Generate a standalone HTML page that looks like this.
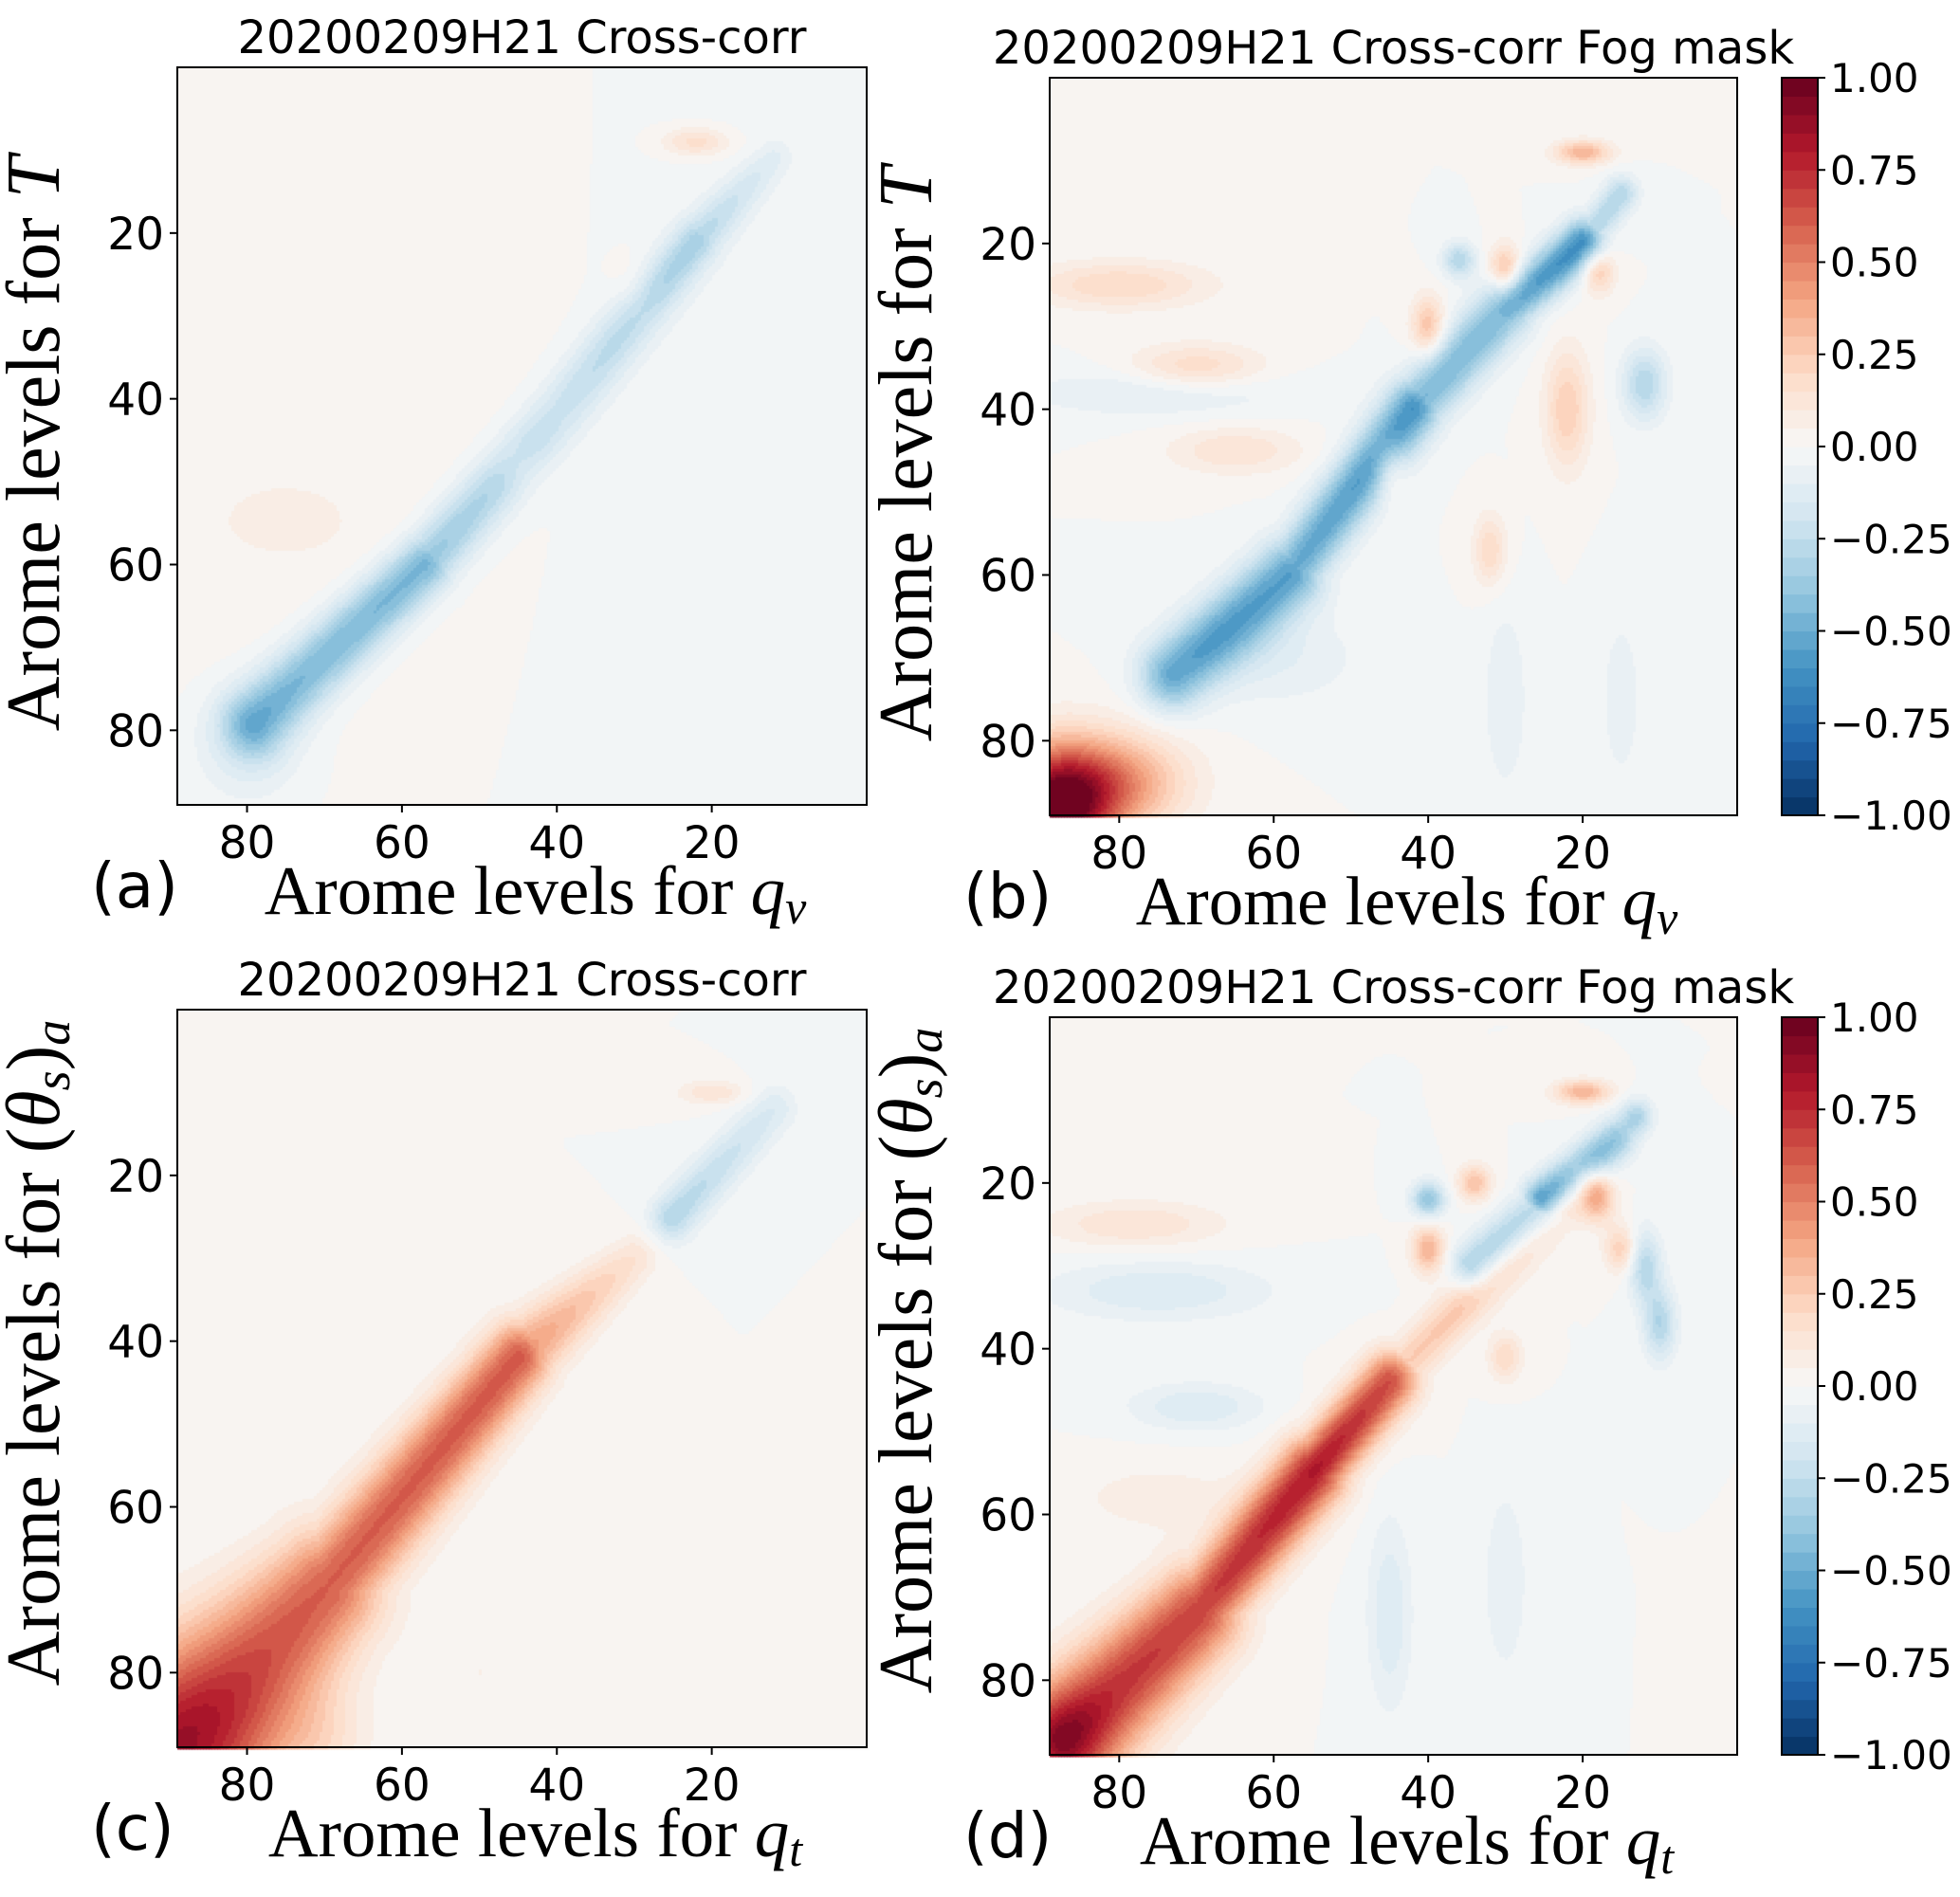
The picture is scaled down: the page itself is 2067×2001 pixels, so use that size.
<!DOCTYPE html>
<html><head><meta charset="utf-8">
<style>
html,body{margin:0;padding:0;background:#fff;}
#wrap{position:relative;width:2067px;height:2001px;overflow:hidden;}
canvas{position:absolute;}
svg{position:absolute;left:0;top:0;}
text{font-family:"DejaVu Sans","Liberation Sans",sans-serif;fill:#000;}
.serif{font-family:"Liberation Serif","DejaVu Serif",serif;}
</style></head>
<body>
<div id="wrap">
<canvas id="cv" width="2067" height="2001"></canvas>
<svg id="sv" width="2067" height="2001"></svg>
</div>
<script>
// ---- Data: features (levels; x = horizontal variable level, y = vertical level) ----
// segments: [x1,y1,x2,y2,amp1,amp2,width1,width2]
const segA = [[79,79,57,60,-0.45,-0.48,3,2.5],[57,60,40,42,-0.4,-0.22,2.5,2.5],[40,42,22,21,-0.22,-0.32,2.5,2],[22,21,12,11,-0.28,-0.1,2,1.5]];
// blobs: [x,y,amp,sx,sy]
const blobA = [[75,35,0.04,25,30],[10,60,-0.04,20,40],[80,82,-0.12,5,5],[22,9,0.18,3,1.2],[30,27,0.06,2,3],[45,48,0.06,2,2],[75,55,0.04,6,3]];
const segB = [[73,72,58,60,-0.5,-0.55,3,3],[58,60,42,40,-0.5,-0.6,2.5,2.5],[42,40,30,28,-0.45,-0.45,2.5,2.5],[30,28,20,20,-0.5,-0.65,2,2],[20,20,15,14,-0.3,-0.3,1.5,1.5]];
const blobB = [[88,88,1.0,5,5],[80,85,0.4,6,4],[80,25,0.2,8,2],[70,35,0.2,6,2],[65,45,0.15,6,2],[40,30,0.3,1.5,2.5],[36,22,-0.3,1.5,1.5],[30,23,0.3,1.5,2],[20,9,0.35,2.5,1],[18,23,0.3,1.5,2],[12,37,-0.3,2,3],[22,40,0.25,2,5],[45,47,0.2,1.5,2.5],[32,57,0.2,1.5,3],[75,38,-0.12,12,2],[60,70,-0.1,8,4],[30,75,-0.1,2,8],[15,75,-0.08,2,8]];
const segC = [[89,89,70,70,0.62,0.6,8,5],[70,70,45,42,0.6,0.62,4,3],[45,42,30,30,0.45,0.15,3,2],[25,25,12,12,-0.3,-0.15,2,2]];
const blobC = [[89,89,0.25,10,8],[20,10,0.15,3,1],[70,88,0.1,4,4],[50,80,0.05,4,6]];
const segD = [[87,87,70,72,0.75,0.68,5,4],[70,72,55,55,0.68,0.8,3,3],[55,55,45,44,0.82,0.65,2.5,2.5],[43,42,20,20,0.25,0.3,2,2],[34,30,25,23,-0.4,-0.45,2,2],[25,22,16,15,-0.7,-0.4,1.8,1.8]];
const blobD = [[87,87,0.2,4,4],[13,12,-0.3,1.5,1.5],[40,22,-0.4,1.5,1.5],[34,20,0.3,1.5,1.5],[40,28,0.35,1.5,2],[18,22,0.3,1.5,2],[15,28,0.25,1.5,2],[12,30,-0.3,1.5,3],[10,37,-0.3,1.5,3],[20,9,0.35,2.5,1],[30,41,0.2,1.5,2],[75,33,-0.15,10,2.5],[70,47,-0.15,6,2],[78,25,0.15,8,2],[45,72,-0.15,2,8],[30,68,-0.1,2,8],[75,58,0.08,8,3]];
const xTicks = [80,60,40,20];
const yTicks = [20,40,60,80];
const cbTicks = [1.00,0.75,0.50,0.25,0.00,-0.25,-0.50,-0.75,-1.00];
const titles = ["20200209H21 Cross-corr","20200209H21 Cross-corr Fog mask","20200209H21 Cross-corr","20200209H21 Cross-corr Fog mask"];
const letters = ["(a)","(b)","(c)","(d)"];

const panels = [
 {id:'a',L:187,T:71,R:914,B:849,seg:segA,blob:blobA,xv:'v',yl:'T',cb:false},
 {id:'b',L:1107,T:82,R:1832,B:860,seg:segB,blob:blobB,xv:'v',yl:'T',cb:true},
 {id:'c',L:187,T:1065,R:914,B:1843,seg:segC,blob:blobC,xv:'t',yl:'th',cb:false},
 {id:'d',L:1107,T:1073,R:1832,B:1851,seg:segD,blob:blobD,xv:'t',yl:'th',cb:true}
];
const RD=[[0x67,0x00,0x1f],[0xb2,0x18,0x2b],[0xd6,0x60,0x4d],[0xf4,0xa5,0x82],[0xfd,0xdb,0xc7],[0xf7,0xf7,0xf7],[0xd1,0xe5,0xf0],[0x92,0xc5,0xde],[0x43,0x93,0xc3],[0x21,0x66,0xac],[0x05,0x30,0x61]];
function cmap(v){
  v=Math.max(-1,Math.min(1,v));
  let q=Math.min(39,Math.floor((v+1)/2*40)); let vv=-1+(q+0.5)/20;
  let t=(1-vv)/2*10; let i=Math.min(9,Math.floor(t)); let f=t-i;
  const c=RD[i].map((a,k)=>Math.round(a+(RD[i+1][k]-a)*f));
  return 'rgb('+c.join(',')+')';
}
function field(p,x,y){
  let pos=0,neg=0,s=0;
  for(const g of p.seg){
    const [x1,y1,x2,y2,a1,a2,w1,w2]=g; const dx=x2-x1,dy=y2-y1;
    let t=((x-x1)*dx+(y-y1)*dy)/(dx*dx+dy*dy); t=Math.max(0,Math.min(1,t));
    const px=x1+dx*t,py=y1+dy*t; const d2=(x-px)**2+(y-py)**2;
    const w=w1+(w2-w1)*t; const v=(a1+(a2-a1)*t)*Math.exp(-d2/(2*w*w));
    if(v>pos)pos=v; if(v<neg)neg=v;
  }
  s=pos+neg;
  for(const b of p.blob){ s+=b[2]*Math.exp(-((x-b[0])**2)/(2*b[3]*b[3])-((y-b[1])**2)/(2*b[4]*b[4])); }
  return s;
}
const ctx=document.getElementById('cv').getContext('2d');
const sv=document.getElementById('sv');
const NS='http://www.w3.org/2000/svg';
function el(tag,attrs,parent,txt){const e=document.createElementNS(NS,tag);for(const k in attrs)e.setAttribute(k,attrs[k]);if(txt!==undefined)e.textContent=txt;(parent||sv).appendChild(e);return e;}
const CELL=3;
panels.forEach((p,pi)=>{
  const xs=lv=>p.L+(89-lv)/89*(p.R-p.L);
  const ys=lv=>p.T+lv/89*(p.B-p.T);
  const xinv=px=>89-(px-p.L)/(p.R-p.L)*89;
  const yinv=py=>(py-p.T)/(p.B-p.T)*89;
  for(let py=p.T;py<p.B;py+=CELL){for(let px=p.L;px<p.R;px+=CELL){
    ctx.fillStyle=cmap(field(p,xinv(px+CELL/2),yinv(py+CELL/2)));
    ctx.fillRect(px,py,CELL+0.5,CELL+0.5);
  }}
  const g=el('g',{});
  
  
  const fr=el('rect',{x:p.L,y:p.T,width:p.R-p.L,height:p.B-p.T,fill:'none',stroke:'#000','stroke-width':2},g);
  
  
  const tt=el('text',{x:(p.L+p.R)/2,y:p.T-15,'font-size':48,'text-anchor':'middle'},g,titles[pi]);
  
  
  xTicks.forEach(v=>{
    el('line',{x1:xs(v),x2:xs(v),y1:p.B,y2:p.B+8,stroke:'#000','stroke-width':2},g);
    const t=el('text',{x:xs(v),y:p.B+56,'font-size':47,'text-anchor':'middle'},g,String(v));
    
    
  });
  yTicks.forEach(v=>{
    el('line',{x1:p.L-8,x2:p.L,y1:ys(v),y2:ys(v),stroke:'#000','stroke-width':2},g);
    const t=el('text',{x:p.L-14,y:ys(v)+17,'font-size':47,'text-anchor':'end'},g,String(v));
    
    
  });
  const xl=el('text',{x:(p.L+p.R)/2+14,y:p.B+115,'font-size':73,'text-anchor':'middle',class:'serif'},g);
  
  
  el('tspan',{},xl,'Arome levels for ');
  el('tspan',{'font-style':'italic'},xl,'q');
  el('tspan',{'font-style':'italic','font-size':50,dy:10},xl,p.xv);
  const lt=el('text',{x:p.L-91,y:p.B+108,'font-size':66},g,letters[pi]);
  
  
  const cy=p.yl==='T'?(p.T+p.B)/2+8:(p.T+p.B)/2-27;
  const cx=p.L-125;
  const yl=el('text',{x:cx,y:cy,'font-size':80,'text-anchor':'middle',class:'serif',transform:'rotate(-90 '+cx+' '+cy+')'},g);
  
  
  el('tspan',{},yl,'Arome levels for ');
  if(p.yl==='T'){ el('tspan',{'font-style':'italic'},yl,'T'); }
  else { el('tspan',{},yl,'('); el('tspan',{'font-style':'italic'},yl,'θ'); el('tspan',{'font-style':'italic','font-size':54,dy:11},yl,'s'); el('tspan',{dy:-11},yl,')'); el('tspan',{'font-style':'italic','font-size':54,dy:11},yl,'a'); }
  if(p.cb){
    const cL=1879,cR=1917;
    const cyS=v=>p.T+(1-v)/2*(p.B-p.T);
    for(let k=0;k<40;k++){
      const v=-1+(k+0.5)/20;
      const r=el('rect',{x:cL,y:cyS(-1+(k+1)/20),width:cR-cL,height:(p.B-p.T)/40+0.6,fill:cmap(v)},g);
      
      
    }
    const cf=el('rect',{x:cL,y:p.T,width:cR-cL,height:p.B-p.T,fill:'none',stroke:'#000','stroke-width':2},g);
    
    
    cbTicks.forEach(v=>{
      el('line',{x1:cR,x2:cR+8,y1:cyS(v),y2:cyS(v),stroke:'#000','stroke-width':2},g);
      const t=el('text',{x:cR+13,y:cyS(v)+15,'font-size':42},g,(v<0?'\u2212':'')+Math.abs(v).toFixed(2));
      
      
    });
  }
});
</script>
</body></html>
